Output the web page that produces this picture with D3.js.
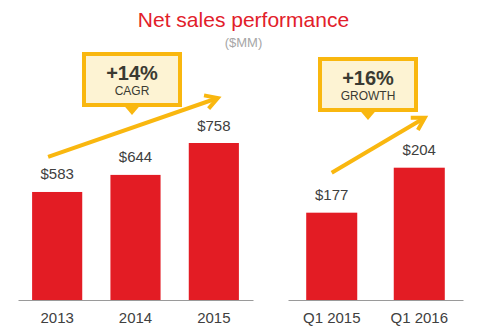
<!DOCTYPE html>
<html>
<head>
<meta charset="utf-8">
<script src="https://cdn.jsdelivr.net/npm/d3@7"></script>
<style>
  html, body { margin: 0; padding: 0; background: #ffffff; }
  svg { display: block; font-family: "Liberation Sans", Arial, sans-serif; }
</style>
</head>
<body>
<svg id="chart" width="478" height="329"></svg>
<script>
// ---- data ----
const annualCategories = ["2013", "2014", "2015"];
const annualValues = [583, 644, 758];
const quarterCategories = ["Q1 2015", "Q1 2016"];
const quarterValues = [177, 204];
const annualCallout = ["+14%", "CAGR"];
const quarterCallout = ["+16%", "GROWTH"];
const titleText = "Net sales performance";
const unitText = "($MM)";

// ---- style ----
const RED = "#e31c24";
const YELLOW = "#f9b70f";
const CREAM = "#fdf3d3";
const TEXT = "#404040";
const baseY = 300;

const svg = d3.select("#chart");

svg.append("text").attr("x", 243.5).attr("y", 27).attr("text-anchor", "middle")
  .attr("fill", "#e2202a").attr("font-size", 21).text(titleText);
svg.append("text").attr("x", 243.5).attr("y", 46.5).attr("text-anchor", "middle")
  .attr("fill", "#a6a6a6").attr("font-size", 13).text(unitText);

function panel(cats, vals, xRange, yDomain, yTop, pInner, pOuter) {
  const x = d3.scaleBand().domain(cats).range(xRange).paddingInner(pInner).paddingOuter(pOuter);
  const y = d3.scaleLinear().domain(yDomain).range([baseY, yTop]);
  const g = svg.append("g");
  g.selectAll("rect.bar").data(cats).join("rect").attr("class", "bar")
    .attr("x", d => x(d)).attr("width", x.bandwidth())
    .attr("y", (d, i) => y(vals[i])).attr("height", (d, i) => baseY - y(vals[i]))
    .attr("fill", RED);
  g.selectAll("text.val").data(cats).join("text").attr("class", "val")
    .attr("x", d => x(d) + x.bandwidth() / 2)
    .attr("y", (d, i) => y(vals[i]) - 12.5)
    .attr("text-anchor", "middle").attr("fill", TEXT).attr("font-size", 15)
    .text((d, i) => "$" + vals[i]);
  const ax = g.append("g").attr("transform", `translate(0,${baseY})`)
    .call(d3.axisBottom(x).tickSize(0).tickPadding(12.5));
  ax.select(".domain").attr("stroke", "#9a9a9a").attr("stroke-width", 1);
  ax.selectAll("text").attr("fill", TEXT).attr("font-size", 15)
    .attr("font-family", "'Liberation Sans', Arial, sans-serif");
  return { x, y };
}

const L = panel(annualCategories, annualValues, [18, 253], [197, 758], 143, 0.36, 0.18);
const R = panel(quarterCategories, quarterValues, [288, 463], [124.6, 204], 167.7, 0.417, 0.208);

function arrow(x1, y1, x2, y2) {
  const ang = Math.atan2(y2 - y1, x2 - x1);
  const len = 14, half = 30 * Math.PI / 180;
  const w1 = [x2 - len * Math.cos(ang - half), y2 - len * Math.sin(ang - half)];
  const w2 = [x2 - len * Math.cos(ang + half), y2 - len * Math.sin(ang + half)];
  svg.append("line").attr("x1", x1).attr("y1", y1).attr("x2", x2 - 1.5 * Math.cos(ang)).attr("y2", y2 - 1.5 * Math.sin(ang))
    .attr("stroke", YELLOW).attr("stroke-width", 4);
  svg.append("path").attr("d", `M${w1[0]},${w1[1]}L${x2},${y2}L${w2[0]},${w2[1]}`)
    .attr("fill", "none").attr("stroke", YELLOW).attr("stroke-width", 4)
    .attr("stroke-linejoin", "miter");
}

arrow(L.x("2013") + 16, L.y(583) - 35, L.x("2015") + 29, L.y(758) - 45);
arrow(R.x("Q1 2015") + 25.5, R.y(177) - 40, R.x("Q1 2016") + 31, R.y(204) - 50);

function callout(cx, top, labels) {
  const w = 100, h = 55;
  const x0 = cx - w / 2;
  svg.append("path")
    .attr("d", `M${cx - 8.5},${top + h - 2}L${cx + 8.5},${top + h - 2}L${cx},${top + h + 8}Z`)
    .attr("fill", YELLOW);
  svg.append("rect").attr("x", x0 + 2).attr("y", top + 2).attr("width", w - 4).attr("height", h - 4)
    .attr("fill", CREAM).attr("stroke", YELLOW).attr("stroke-width", 4);
  svg.append("text").attr("x", cx).attr("y", top + 28).attr("text-anchor", "middle")
    .attr("font-weight", "bold").attr("font-size", 20).attr("fill", "#3a3a32").text(labels[0]);
  svg.append("text").attr("x", cx).attr("y", top + 43).attr("text-anchor", "middle")
    .attr("font-size", 12).attr("fill", "#3a3a32").text(labels[1]);
}

callout(132, 52, annualCallout);
callout(368, 57, quarterCallout);
</script>
</body>
</html>
